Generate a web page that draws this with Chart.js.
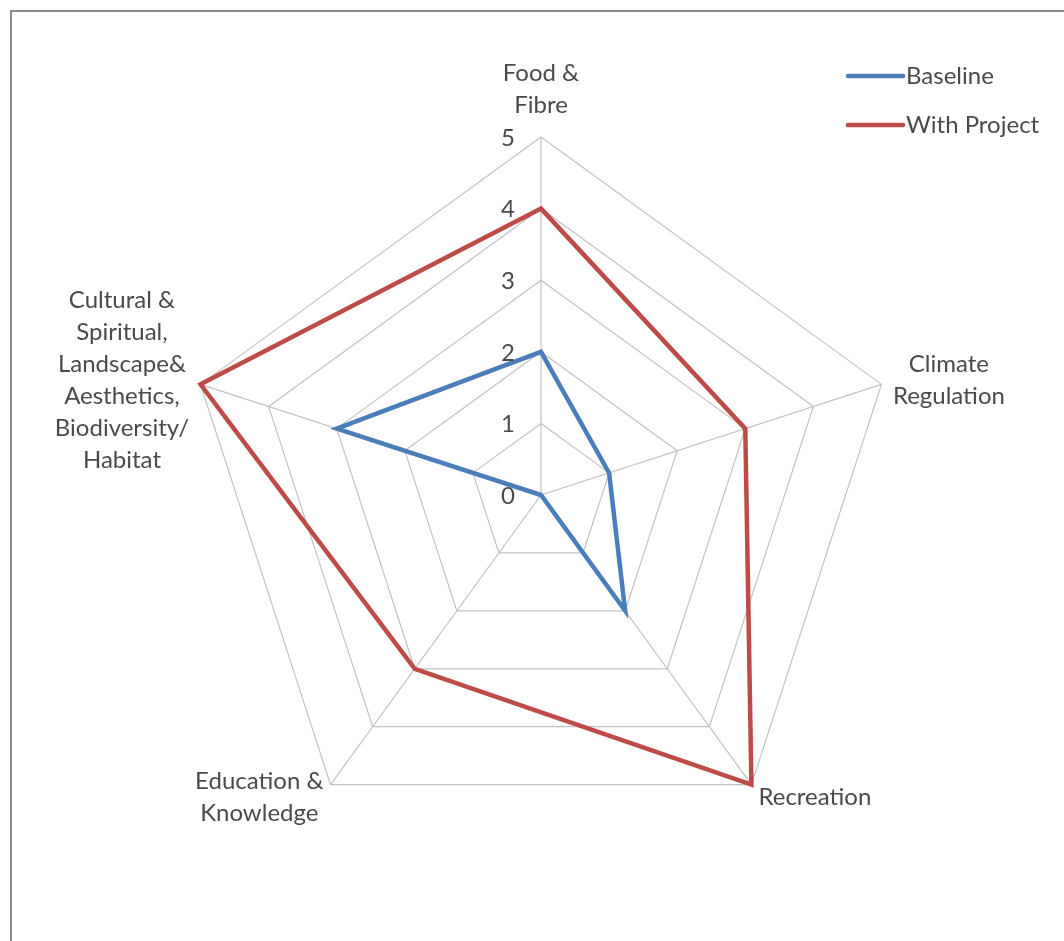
<!DOCTYPE html>
<html>
<head>
<meta charset="utf-8">
<script src="https://cdn.jsdelivr.net/npm/chart.js@4.4.1/dist/chart.umd.min.js"></script>
<style>
    html, body { margin: 0; padding: 0; background: #fff; }
    #wrap { position: relative; width: 1064px; height: 941px; }
    #frame {
        position: absolute; left: 10px; top: 10px; right: 0; bottom: 0;
        border-top: 2px solid #8c8c8c; border-left: 2px solid #8c8c8c;
    }
    #chart { position: absolute; left: 0; top: 0; }
</style>
</head>
<body>
<div id="wrap">
    <div id="frame"></div>
    <canvas id="chart" width="1064" height="941"></canvas>
</div>
<script>
// Categories (multi-line labels)
const categories = [
    ['Food &', 'Fibre'],
    ['Climate', 'Regulation'],
    ['Recreation'],
    ['Education &', 'Knowledge'],
    ['Cultural &', 'Spiritual,', 'Landscape&', 'Aesthetics,', 'Biodiversity/', 'Habitat']
];

// Series values
const baseline = [2, 1, 2, 0, 3];
const withProject = [4, 3, 5, 3, 5];

// Tick labels
const tickValues = [0, 1, 2, 3, 4, 5];

const FONT = '24px Lato, "Open Sans", sans-serif';
const TEXT_COLOR = '#4a4a4a';
const LINE_H = 32;

// Draw tick numbers, point labels and legend ourselves (Excel-like placement)
const labelPlugin = {
    id: 'excelLabels',
    afterDraw(chart) {
        const ctx = chart.ctx;
        const scale = chart.scales.r;
        ctx.save();
        ctx.font = FONT;
        ctx.fillStyle = TEXT_COLOR;

        // tick labels, left of the vertical axis
        ctx.textAlign = 'right';
        ctx.textBaseline = 'middle';
        tickValues.forEach(v => {
            const y = scale.yCenter - scale.getDistanceFromCenterForValue(v);
            ctx.fillText(String(v), scale.xCenter - 26, y + 1);
        });

        // point labels
        categories.forEach((lines, i) => {
            const pos = scale.getPointPosition(i, scale.drawingArea + 12);
            const dx = pos.x - scale.xCenter;
            const dy = pos.y - scale.yCenter;
            const blockW = Math.max(...lines.map(l => ctx.measureText(l).width));
            const blockH = lines.length * LINE_H;
            let cx, top;
            if (Math.abs(dx) < 5) {
                cx = pos.x;
                top = dy < 0 ? pos.y - blockH - 4 : pos.y;
            } else if (dx > 0) {
                cx = pos.x + blockW / 2;
                top = pos.y - blockH / 2;
            } else {
                cx = pos.x - blockW / 2;
                top = pos.y - blockH / 2;
            }
            // lower labels sit a little lower in Excel
            if (dy > 100) top += 3;
            ctx.textAlign = 'center';
            ctx.textBaseline = 'middle';
            lines.forEach((l, k) => {
                ctx.fillText(l, cx, top + LINE_H * k + LINE_H / 2);
            });
        });

        // legend
        const items = chart.data.datasets;
        ctx.textAlign = 'left';
        ctx.textBaseline = 'middle';
        items.forEach((ds, k) => {
            const y = 76 + k * 49;
            ctx.strokeStyle = ds.borderColor;
            ctx.lineWidth = 4.5;
            ctx.lineCap = 'round';
            ctx.beginPath();
            ctx.moveTo(848, y);
            ctx.lineTo(903, y);
            ctx.stroke();
            ctx.fillText(ds.label, 906, y);
        });
        ctx.restore();
    }
};

new Chart(document.getElementById('chart'), {
    type: 'radar',
    data: {
        labels: categories,
        datasets: [
            {
                label: 'Baseline',
                data: baseline,
                borderColor: '#4a7ebb',
                borderWidth: 4.5,
                pointRadius: 0,
                fill: false,
                tension: 0
            },
            {
                label: 'With Project',
                data: withProject,
                borderColor: '#be4b48',
                borderWidth: 4.5,
                pointRadius: 0,
                fill: false,
                tension: 0
            }
        ]
    },
    options: {
        responsive: false,
        animation: false,
        layout: {
            padding: { left: 183, right: 165, top: 137, bottom: 88 }
        },
        plugins: {
            legend: { display: false },
            tooltip: { enabled: false }
        },
        scales: {
            r: {
                min: 0,
                max: 5,
                ticks: { stepSize: 1, display: false },
                pointLabels: { display: false },
                grid: { color: '#c2c2c2', lineWidth: 1.2 },
                angleLines: { color: '#c2c2c2', lineWidth: 1.2 }
            }
        }
    },
    plugins: [labelPlugin]
});
</script>
</body>
</html>
